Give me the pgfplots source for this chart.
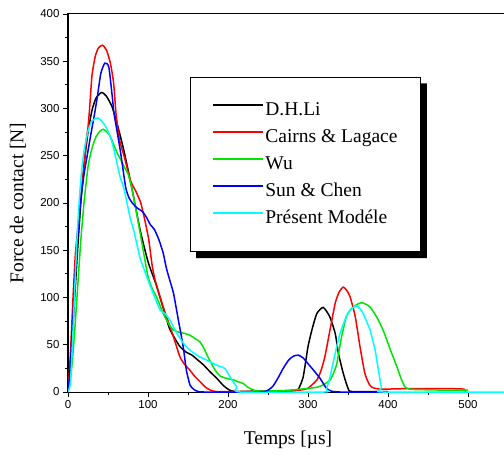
\documentclass[border=0pt]{standalone}
\usepackage{fontspec}
\setmainfont{Liberation Serif}
\newfontfamily\arial{Liberation Sans}
\usepackage{pgfplots}
\pgfplotsset{compat=1.18}
\definecolor{cgreen}{RGB}{0,230,0}
\definecolor{ccyan}{RGB}{0,255,255}
\begin{document}
\begin{tikzpicture}
\begin{axis}[
  scale only axis, width=440pt, height=378pt,
  xmin=0, xmax=550, ymin=0, ymax=400,
  xtick={0,100,...,500}, ytick={0,50,...,400},
  minor x tick num=1, minor y tick num=1,
  tick pos=left, tick align=outside,
  major tick length=5pt, minor tick length=3pt,
  axis line style={line width=1pt}, every tick/.style={line width=0.8pt, black},
  /pgf/number format/assume math mode=true,
  ticklabel style={font=\arial\fontsize{11.5}{13}\selectfont},
  xlabel={Temps [µs]}, ylabel={Force de contact [N]},
  every axis x label/.style={at={(rel axis cs:0.5,0)}, anchor=center, yshift=-48pt, font=\fontsize{19.5}{22}\selectfont},
  every axis y label/.style={at={(rel axis cs:0,0.5)}, anchor=center, xshift=-50pt, rotate=90, font=\fontsize{19.5}{22}\selectfont},
  legend cell align=left,
  legend image code/.code={\draw[#1, line width=2pt] (0pt,6pt) -- (50pt,6pt);},
  legend style={name=leg, at={(axis cs:152.5,333)}, anchor=north west,
    font=\fontsize{19.5}{22}\selectfont, line width=0.8pt, fill=white,
    inner xsep=22pt, inner ysep=23pt, row sep=7pt,
    nodes={text height=14pt, text depth=4pt, inner sep=1pt},
    /tikz/every even column/.append style={column sep=11pt}},
  every axis plot/.append style={line width=1.5pt, smooth, tension=0.35},
]
\addplot[black] coordinates {(0,0) (4,40) (8,95) (12,150) (16,200) (20,240) (25,275) (30,298) (35,311) (42,317) (48,313) (55,302) (62,282) (70,255) (80,215) (90,172) (100,138) (110,114) (120,86) (127,67) (134,56) (140,48) (148,42) (155,39) (162,34) (169,29) (178,21) (186,14.5) (194,7) (202,2) (210,0.5) (240,1) (270,1) (284,1.5) (288,3) (294,16) (300,48) (305,66) (311,83) (319,89.5) (327,80) (334,62) (338,41) (344,20) (350,4) (355,0.5) (400,0.5)};
\addlegendentry{D.H.Li}
\addplot[red] coordinates {(0,0) (3,40) (6,95) (9,143) (13,180) (16,205) (20,238) (23,268) (25,280) (27,300) (30,335) (34,355) (38,364) (43,367) (48,362) (53,348) (57,327) (60,295) (64,268) (70,250) (78,224) (85,212) (91,200) (96,182) (101,161) (105,135) (109,118) (119,90) (126,73) (132,58) (140,37) (146,29) (152.5,23) (158,17) (165,11) (172,5) (178,2) (185,0.5) (220,0.5) (260,1) (290,2) (300,4) (311,12.7) (316,22) (321,37) (327.5,65.6) (334,94) (339,106) (344,111) (348,108) (352.5,101) (359,80) (365,48) (371,20) (376,9) (380,5) (390,3) (420,3.5) (460,3.5) (480,3.5) (495,3) (497,0)};
\addlegendentry{Cairns \& Lagace}
\addplot[cgreen] coordinates {(0,0) (4,20) (8,60) (12,110) (16,160) (20,200) (25,238) (30,258) (35,270) (40,276) (44,278) (49,275) (53,270) (57.5,261) (62,252) (67,244) (71,237) (75,231) (80,215) (86,188) (94,150) (100,122) (106,108) (111,100) (119,83) (126,72) (131.6,65.6) (140,63) (146,62) (152.5,60) (160,56) (165,53) (170,46) (175,37) (180,29) (184,23) (190,17) (194,15.5) (200,14) (206.6,13) (212,11) (219,9) (225,5) (232,2) (240,1) (270,1.5) (290,3) (311,5) (320,8) (327.5,12.7) (332,20) (336,30) (342,58.5) (348,80) (353,87) (357,90) (362,93) (367,94.5) (372,93) (377.5,90) (384,82) (390,72.7) (395,63) (400,51.5) (406,38) (411,27) (416,15) (421,5.6) (427,3) (440,2.5) (470,2) (500,2)};
\addlegendentry{Wu}
\addplot[blue] coordinates {(0,3) (2,16) (5,60) (10,140) (15,195) (20,230) (25,255) (28,270) (32.5,291) (36.6,312) (41,337) (46,348) (51,344) (55.4,312) (57.5,295) (61.7,274) (66,252) (72,217) (76,206) (80.4,200) (86,195) (93,191) (98,185) (103,177) (108,172) (113.7,161) (119,147) (123,131) (128,116) (132,104) (138,76) (144,48) (148,23) (152.5,7.4) (157,3) (161,1) (170,0) (240,0) (250,2) (256,6) (262,14) (269,25) (276,34) (282,38) (288,39) (294,36) (300,30) (307,23) (315,14.5) (323,4) (329,1) (340,0) (400,0)};
\addlegendentry{Sun \& Chen}
\addplot[ccyan] coordinates {(0,0) (3,10) (6,60) (9,120) (12,175) (16,225) (20,255) (25,276) (30,287) (37,290) (42,287) (47,281) (53,270) (57.5,256) (65,228) (70,215) (77.5,185) (82.5,170) (90,142) (95,130) (100,118.5) (106.6,104) (115,87) (121,83) (127.5,76) (136,62) (146,49.7) (153,44) (161,39) (170,35) (177.5,32) (184,29) (190,27) (196,25) (202.5,16) (207,10) (211,5.6) (215,0) (320,0) (323,3) (327.5,16) (334,41) (340,62) (348,80) (354,88) (361,91) (365,88) (369,83) (377.5,65.6) (384,44) (388,23) (392,4) (394,0) (550,0)};
\addlegendentry{Présent Modéle}
\coordinate (bl) at (rel axis cs:0,0);
\coordinate (tr) at (rel axis cs:1,1);
\end{axis}
\fill[black] ([yshift=-6pt]leg.north east) -- ([xshift=6pt,yshift=-6pt]leg.north east) -- ([xshift=6pt,yshift=-6pt]leg.south east) -- ([xshift=6pt,yshift=-6pt]leg.south west) -- ([xshift=6pt]leg.south west) -- (leg.south east) -- cycle;
\pgfresetboundingbox
\path[use as bounding box] ([xshift=-68pt,yshift=-62pt]bl) rectangle ([xshift=-4pt,yshift=14pt]tr);
\end{tikzpicture}
\end{document}
